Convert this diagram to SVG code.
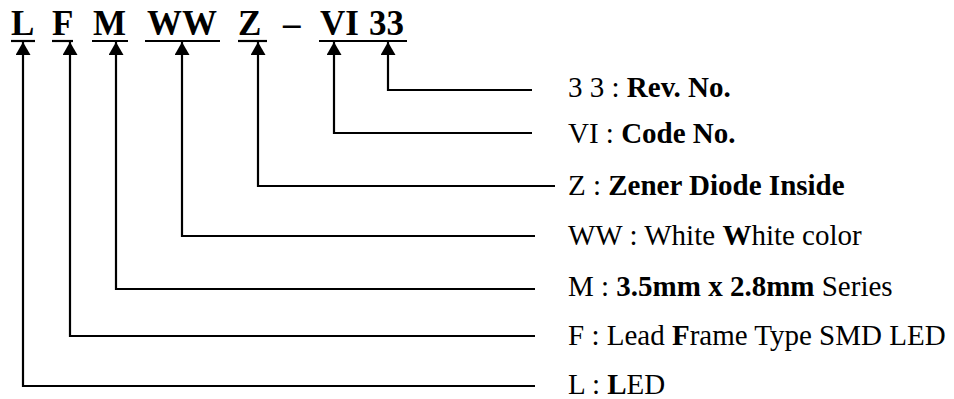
<svg xmlns="http://www.w3.org/2000/svg" width="954" height="399" viewBox="0 0 954 399">
<style>
.code{font-family:"Liberation Serif","Times New Roman",serif;font-weight:bold;font-size:35px;fill:#000}
.desc{font-family:"Liberation Serif","Times New Roman",serif;font-size:29px;fill:#000}
.b{font-weight:bold}
.ul{stroke:#000;stroke-width:2.2}
.conn{fill:none;stroke:#000;stroke-width:2.2;marker-start:url(#arr)}
</style>
<defs>
<marker id="arr" markerUnits="userSpaceOnUse" markerWidth="14" markerHeight="16" refX="13" refY="7.5" orient="auto-start-reverse" viewBox="0 0 14 16">
<path d="M0,0 L13,7.5 L0,15 z" fill="#000"/>
</marker>
</defs>
<rect width="954" height="399" fill="#fff"/>
<g id="code-L">
<text class="code" x="11" y="35">L</text>
<line class="ul" x1="11" y1="41" x2="35" y2="41"/>
<text class="desc" x="568" y="394">L : <tspan class="b">L</tspan>ED</text>
</g>
<g id="code-F">
<text class="code" x="52" y="35">F</text>
<line class="ul" x1="52" y1="41" x2="73" y2="41"/>
<text class="desc" x="568" y="345">F : Lead <tspan class="b">F</tspan>rame Type SMD LED</text>
</g>
<g id="code-M">
<text class="code" x="93" y="35">M</text>
<line class="ul" x1="92" y1="41" x2="128" y2="41"/>
<text class="desc" x="568" y="296">M : <tspan class="b">3.5mm x 2.8mm</tspan> Series</text>
</g>
<g id="code-WW">
<text class="code" x="147" y="35">WW</text>
<line class="ul" x1="145" y1="41" x2="220" y2="41"/>
<text class="desc" x="568" y="245">WW : White <tspan class="b">W</tspan>hite color</text>
</g>
<g id="code-Z">
<text class="code" x="238" y="35">Z</text>
<line class="ul" x1="238" y1="41" x2="267" y2="41"/>
<text class="desc" x="568" y="195">Z : <tspan class="b">Zener Diode Inside</tspan></text>
</g>
<g id="dash">
<text class="code" x="283" y="35">–</text>
</g>
<g id="code-VI">
<text class="code" x="320" y="35">VI</text>
<text class="desc" x="568" y="143">VI : <tspan class="b">Code No.</tspan></text>
</g>
<g id="code-33">
<text class="code" x="369" y="35">33</text>
<text class="desc" x="568" y="97">3 3 : <tspan class="b">Rev. No.</tspan></text>
</g>
<line class="ul" x1="319" y1="41" x2="407" y2="41"/>
<g id="connectors">
<path class="conn" d="M23,42 V386 H535"/>
<path class="conn" d="M70,42 V336 H535"/>
<path class="conn" d="M116,42 V289 H535"/>
<path class="conn" d="M182,42 V236 H535"/>
<path class="conn" d="M258,42 V186 H555"/>
<path class="conn" d="M334,42 V133 H532"/>
<path class="conn" d="M388,42 V90 H532"/>
</g>
</svg>
